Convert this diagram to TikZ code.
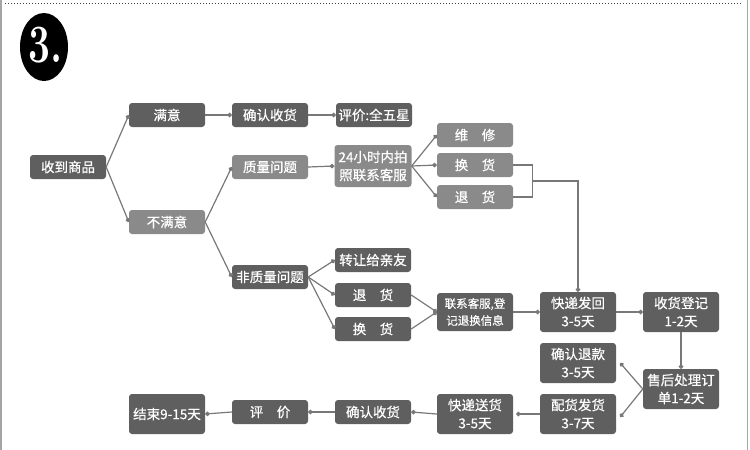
\documentclass[tikz,border=0pt]{standalone}
\usepackage{fontspec}
\usepackage{tikz}
\usetikzlibrary{arrows.meta, calc}
\newfontfamily\cjk{Noto Sans CJK SC}[FakeBold=0.6]
\definecolor{boxdark}{RGB}{95,95,95}
\definecolor{boxlight}{RGB}{138,138,138}
\definecolor{linkgray}{RGB}{120,120,120}
\definecolor{framegray}{RGB}{165,165,165}
\tikzset{
  dbox/.style={rectangle,fill=boxdark,text=white,minimum width=76pt,minimum height=24pt,
    inner sep=0pt,rounded corners=3pt,align=center,font=\cjk\fontsize{13.5}{18}\selectfont},
  lbox/.style={dbox,fill=boxlight},
  tall/.style={minimum height=40pt},
  link/.style={-{Circle[length=4.5pt]},line width=1.2pt,color=linkgray},
  plain/.style={line width=1.2pt,color=linkgray}
}
\begin{document}
\begin{tikzpicture}[x=1pt,y=-1pt]
  \useasboundingbox (0,0) rectangle (750,450);
  % page frame
  \draw[framegray, line width=1.5pt] (1,0) -- (1,450);
  \draw[framegray, line width=1.5pt] (747.5,0) -- (747.5,450);
  \draw[black!75, line width=1pt, dash pattern=on 1pt off 2pt] (5,3) -- (742,3);

  % step number
  \fill[black] (44,47) ellipse [x radius=24, y radius=34];
  \node[text=white, inner sep=0pt] (num) at (46,45) {\scalebox{0.72}[1]{\fontsize{54}{54}\selectfont\bfseries 3.}};

  % first column
  \node[dbox] (get) at (68,167) {收到商品};
  \node[dbox] (my) at (167,115) {满意};
  \node[lbox] (bmy) at (167,222) {不满意};

  % satisfied
  \node[dbox] (qr1) at (270,115) {确认收货};
  \node[dbox] (pj1) at (374,115) {评价:全五星};

  % quality problem
  \node[lbox] (zl) at (270,167) {质量问题};
  \node[lbox, minimum width=77pt, minimum height=42pt] (lx24) at (373,166) {24小时内拍\\照联系客服};
  \node[lbox] (wx) at (475,135) {维\hspace{1em}修};
  \node[lbox] (hh1) at (475,165) {换\hspace{1em}货};
  \node[lbox] (th1) at (475,197) {退\hspace{1em}货};

  % other problem
  \node[dbox] (fzl) at (270,277) {非质量问题};
  \node[dbox] (zr) at (373,260) {转让给亲友};
  \node[dbox] (th2) at (373,295) {退\hspace{1em}货};
  \node[dbox] (hh2) at (373,329) {换\hspace{1em}货};
  \node[dbox, minimum height=38pt, font=\cjk\fontsize{11.5}{17}\selectfont] (lxdj) at (475,312) {联系客服,登\\记退换信息};

  % after sales
  \node[dbox, tall] (kdfh) at (578,312) {快递发回\\3-5天};
  \node[dbox, tall] (shdj) at (681,312) {收货登记\\1-2天};
  \node[dbox, tall] (qrtk) at (578,363) {确认退款\\3-5天};
  \node[dbox, tall] (shcl) at (681,389) {售后处理订\\单1-2天};
  \node[dbox, tall] (phfh) at (578,414) {配货发货\\3-7天};
  \node[dbox, tall] (kdsh) at (475,414) {快递送货\\3-5天};
  \node[dbox] (qr2) at (373,412) {确认收货};
  \node[dbox] (pj2) at (270,412) {评\hspace{1em}价};
  \node[dbox, tall] (js) at (167,414) {结束9-15天};

  % connectors
  \draw[link] (get.east) -- (my.west);
  \draw[link] (get.east) -- (bmy.west);
  \draw[link] (my.east) -- (qr1.west);
  \draw[link] (qr1.east) -- (pj1.west);
  \draw[link] (bmy.east) -- (zl.west);
  \draw[link] (bmy.east) -- (fzl.west);
  \draw[link] (zl.east) -- (lx24.west);
  \draw[link] (lx24.east) -- (wx.west);
  \draw[link] (lx24.east) -- (hh1.west);
  \draw[link] (lx24.east) -- (th1.west);
  \coordinate (brk) at ($(hh1.east)!0.5!(th1.east)+(19,0)$);
  \draw[plain] (hh1.east) -| (brk) |- (th1.east);
  \draw[link] (brk) -| (kdfh.north);
  \draw[link] (fzl.east) -- (zr.west);
  \draw[link] (fzl.east) -- (th2.west);
  \draw[link] (fzl.east) -- (hh2.west);
  \draw[link] (th2.east) -- (lxdj.west);
  \draw[link] (hh2.east) -- (lxdj.west);
  \draw[link] (lxdj.east) -- (kdfh.west);
  \draw[link] (kdfh.east) -- (shdj.west);
  \draw[link] (shdj.south) -- (shcl.north);
  \draw[link] (shcl.west) -- ($(qrtk.east)+(4,0)$);
  \draw[link] (shcl.west) -- ($(phfh.east)+(4,3)$);
  \draw[link] (phfh.west) -- ($(kdsh.east)+(3,0)$);
  \draw[link] (kdsh.west) -- (qr2.east);
  \draw[link] (qr2.west) -- (pj2.east);
  \draw[link] (pj2.west) -- (js.east);
\end{tikzpicture}
\end{document}
